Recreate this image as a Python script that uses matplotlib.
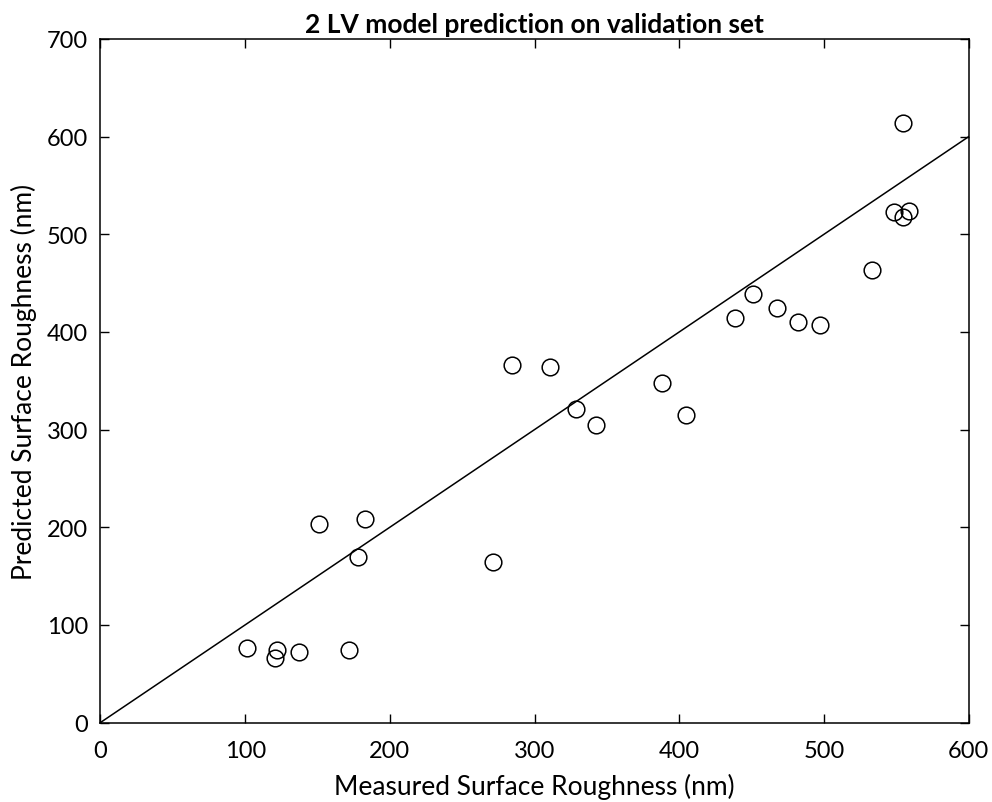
import matplotlib.pyplot as plt

# measured vs predicted surface roughness (nm), validation set
measured = [101.5, 121.9, 120.9, 137.3, 171.9, 151.3, 182.9, 178.3, 271.0,
            284.6, 310.7, 328.7, 342.5, 388.2, 404.5, 438.4, 450.6, 467.4,
            481.7, 497.0, 532.9, 548.4, 558.7, 554.6, 554.6]
predicted = [76.6, 73.9, 66.1, 72.2, 73.9, 203.3, 208.4, 169.2, 164.7,
             366.4, 364.1, 321.1, 305.0, 348.0, 315.2, 414.3, 439.2, 424.2,
             409.9, 407.4, 463.7, 522.5, 523.9, 517.7, 613.7]
ideal = [0, 600]

plt.rcParams["font.family"] = ["Lato", "DejaVu Sans"]

fig = plt.figure(figsize=(9.92, 8.03), dpi=100)
ax = fig.add_axes([0.1013, 0.099, 0.8752, 0.8512])

ax.plot(ideal, ideal, color="black", linewidth=1.1)
ax.plot(measured, predicted, linestyle="none", marker="o", markersize=12,
        markerfacecolor="none", markeredgecolor="black", markeredgewidth=1.1)

ax.set_xlim(0, 600)
ax.set_ylim(0, 700)
ax.set_xticks(range(0, 601, 100))
ax.set_yticks(range(0, 701, 100))
ax.tick_params(direction="in", length=6.5, width=1, labelsize=17,
               top=True, right=True)
ax.tick_params(axis="x", pad=12.5)
ax.tick_params(axis="y", pad=9)
for s in ax.spines.values():
    s.set_linewidth(1.1)

ax.set_title("2 LV model prediction on validation set", fontsize=19,
             fontweight="bold", pad=5)
ax.set_xlabel("Measured Surface Roughness (nm)", fontsize=19, labelpad=9)
ax.set_ylabel("Predicted Surface Roughness (nm)", fontsize=19, labelpad=7)

fig.savefig("out.png", dpi=100)
